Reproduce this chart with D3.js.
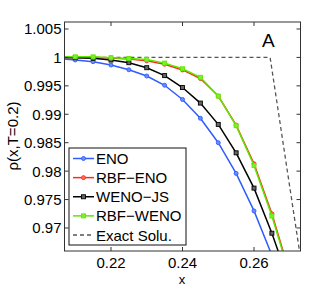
<!DOCTYPE html>
<html>
<head>
<meta charset="utf-8">
<script src="https://cdn.jsdelivr.net/npm/d3@7"></script>
<style>
  body { margin: 0; background: #fff; }
  svg { font-family: "Liberation Sans", Arial, sans-serif; }
</style>
</head>
<body>
<svg id="chart" width="332" height="287" viewBox="0 0 332 287"></svg>
<script>
// grid points of the numerical solutions
let xs = [0.205, 0.21, 0.215, 0.22, 0.225, 0.23, 0.235, 0.24, 0.245, 0.25, 0.255, 0.26, 0.265, 0.27];
let eno     = [0.9998, 0.99955, 0.99925, 0.99866, 0.99783, 0.99673, 0.99510, 0.99260, 0.98930, 0.98500, 0.97960, 0.97300, 0.96520, 0.95600];
let rbfEno  = [1.0000, 1.00000, 1.00000, 0.99990, 0.99970, 0.99940, 0.99880, 0.99780, 0.99630, 0.99320, 0.98810, 0.98130, 0.97250, 0.96200];
let wenoJs  = [1.0000, 0.99995, 0.99985, 0.99954, 0.99907, 0.99819, 0.99680, 0.99470, 0.99197, 0.98822, 0.98322, 0.97701, 0.96908, 0.96010];
let rbfWeno = [1.0001, 1.00010, 1.00010, 0.99995, 0.99980, 0.99965, 0.99900, 0.99800, 0.99650, 0.99320, 0.98800, 0.98100, 0.97210, 0.96170];

// exact solution (plateau then drop)
let exactX = [0.200, 0.2645, 0.2727, 0.2760];
let exactY = [1.000, 1.0000, 0.9660, 0.9523];

let yTicks = [0.97, 0.975, 0.98, 0.985, 0.99, 0.995, 1, 1.005];
let yTickLabels = ['0.97', '0.975', '0.98', '0.985', '0.99', '0.995', '1', '1.005'];
let xTicks = [0.22, 0.24, 0.26];
let xTickLabels = ['0.22', '0.24', '0.26'];

let seriesNames = ['ENO', 'RBF\u2212ENO', 'WENO\u2212JS', 'RBF\u2212WENO', 'Exact Solu.'];

let svg = d3.select('#chart');
let box = {left: 64.5, right: 300.5, top: 22, bottom: 251};

let xScale = d3.scaleLinear().domain([0.207, 0.273]).range([box.left, box.right]);
let yScale = d3.scaleLinear().domain([0.96595, 1.00623]).range([box.bottom, box.top]);

// clip to the axes box
svg.append('defs').append('clipPath').attr('id', 'clip')
    .append('rect')
    .attr('x', box.left).attr('y', box.top)
    .attr('width', box.right - box.left).attr('height', box.bottom - box.top);

let plot = svg.append('g').attr('clip-path', 'url(#clip)');

let line = d3.line()
    .x(function(d){ return xScale(d[0]); })
    .y(function(d){ return yScale(d[1]); });

// exact solution
plot.append('path')
    .datum(d3.zip(exactX, exactY))
    .attr('d', line)
    .attr('fill', 'none')
    .attr('stroke', '#555')
    .attr('stroke-width', 1.3)
    .attr('stroke-dasharray', '4,3');

let series = [
    {vals: eno,     color: '#2f5cff', fill: '#6a8cff', shape: 'circle'},
    {vals: rbfEno,  color: '#ff2a1a', fill: '#ff7060', shape: 'circle'},
    {vals: wenoJs,  color: '#000000', fill: '#666666', shape: 'square'},
    {vals: rbfWeno, color: '#5fe600', fill: '#80ee30', shape: 'square'}
];

series.forEach(function(s){
    let pts = d3.zip(xs, s.vals);
    plot.append('path')
        .datum(pts)
        .attr('d', line)
        .attr('fill', 'none')
        .attr('stroke', s.color)
        .attr('stroke-width', 1.5);
    drawMarkers(plot, pts.map(function(p){ return [xScale(p[0]), yScale(p[1])]; }), s);
});

function drawMarkers(g, pts, s){
    if(s.shape == 'circle'){
        g.selectAll(null).data(pts).enter().append('circle')
            .attr('cx', function(d){ return d[0]; })
            .attr('cy', function(d){ return d[1]; })
            .attr('r', 2)
            .attr('fill', s.fill)
            .attr('stroke', s.color)
            .attr('stroke-width', 0.9);
    } else {
        g.selectAll(null).data(pts).enter().append('rect')
            .attr('x', function(d){ return d[0] - 2; })
            .attr('y', function(d){ return d[1] - 2; })
            .attr('width', 4).attr('height', 4)
            .attr('fill', s.fill)
            .attr('stroke', s.color)
            .attr('stroke-width', 0.9);
    }
}

// axes box and inward ticks
let axisColor = '#333';
svg.append('rect')
    .attr('x', box.left).attr('y', box.top)
    .attr('width', box.right - box.left).attr('height', box.bottom - box.top)
    .attr('fill', 'none').attr('stroke', axisColor).attr('stroke-width', 1);

let tickLen = 4;
yTicks.forEach(function(t, i){
    let y = yScale(t);
    svg.append('line').attr('x1', box.left).attr('x2', box.left + tickLen)
        .attr('y1', y).attr('y2', y).attr('stroke', axisColor);
    svg.append('line').attr('x1', box.right).attr('x2', box.right - tickLen)
        .attr('y1', y).attr('y2', y).attr('stroke', axisColor);
    svg.append('text')
        .attr('x', box.left - 3).attr('y', y + 5.5)
        .attr('text-anchor', 'end')
        .style('font-size', '15px')
        .text(yTickLabels[i]);
});
xTicks.forEach(function(t, i){
    let x = xScale(t);
    svg.append('line').attr('x1', x).attr('x2', x)
        .attr('y1', box.bottom).attr('y2', box.bottom - tickLen).attr('stroke', axisColor);
    svg.append('line').attr('x1', x).attr('x2', x)
        .attr('y1', box.top).attr('y2', box.top + tickLen).attr('stroke', axisColor);
    svg.append('text')
        .attr('x', x).attr('y', 268)
        .attr('text-anchor', 'middle')
        .style('font-size', '15px')
        .text(xTickLabels[i]);
});

// axis labels
svg.append('text')
    .attr('x', 182).attr('y', 284)
    .attr('text-anchor', 'middle')
    .style('font-size', '13px')
    .text('x');
svg.append('text')
    .attr('transform', 'translate(18,136) rotate(-90)')
    .attr('text-anchor', 'middle')
    .style('font-size', '15px')
    .text('\u03c1(x,T=0.2)');

// panel letter
svg.append('text')
    .attr('x', 262).attr('y', 47)
    .style('font-size', '19px')
    .text('A');

// legend
let legend = svg.append('g');
legend.append('rect')
    .attr('x', 69).attr('y', 148)
    .attr('width', 117).attr('height', 97)
    .attr('fill', '#fff').attr('stroke', '#111').attr('stroke-width', 1);

let legendY = d3.scalePoint().domain(seriesNames).range([158.5, 235]);
seriesNames.forEach(function(name, i){
    let y = legendY(name);
    if(i < 4){
        let s = series[i];
        legend.append('line').attr('x1', 73).attr('x2', 94)
            .attr('y1', y).attr('y2', y)
            .attr('stroke', s.color).attr('stroke-width', 1.5);
        drawMarkers(legend, [[83.5, y]], s);
    } else {
        legend.append('line').attr('x1', 73).attr('x2', 94)
            .attr('y1', y).attr('y2', y)
            .attr('stroke', '#555').attr('stroke-width', 1.3)
            .attr('stroke-dasharray', '4,3');
    }
    legend.append('text')
        .attr('x', 96).attr('y', y + 5.5)
        .style('font-size', '15px')
        .text(name);
});
</script>
</body>
</html>
